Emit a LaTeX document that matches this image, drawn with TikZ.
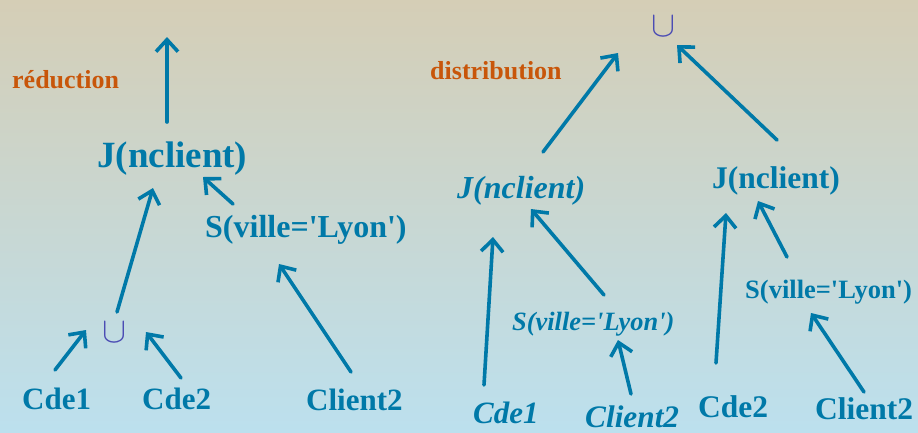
\RequirePackage{fix-cm}
\documentclass[tikz,border=0pt]{standalone}
\usepackage{fontspec}
\setmainfont{Liberation Serif}[Ligatures=TeXOff]
\usetikzlibrary{arrows.meta}
\definecolor{nodeblue}{RGB}{0,121,168}
\definecolor{notecol}{RGB}{200,86,10}
\definecolor{unioncol}{RGB}{75,76,180}
\definecolor{bgtop}{RGB}{213,206,182}
\definecolor{bgmid}{RGB}{198,217,220}
\definecolor{bgbot}{RGB}{188,224,238}

\begin{document}
\begin{tikzpicture}[x=1pt,y=-1pt,
  txt/.style={text=nodeblue, inner sep=0pt, anchor=base west,
    font=\fontsize{#1}{#1}\selectfont\bfseries},
  itxt/.style={text=nodeblue, inner sep=0pt, anchor=base west,
    font=\fontsize{#1}{#1}\selectfont\bfseries\itshape},
  note/.style={text=notecol, inner sep=0pt, anchor=base west,
    font=\fontsize{26}{26}\selectfont\bfseries},
  unionop/.style={text=unioncol, inner sep=0pt,
    font=\fontsize{36}{36}\selectfont},
  arr/.style={draw=nodeblue, line width=3.6pt, line cap=round,
    -{Straight Barb[length=12pt,width=22pt]}}]

% background
\useasboundingbox (0,0) rectangle (918,432);
\shade[top color=bgtop, middle color=bgmid, bottom color=bgbot]
  (0,0) rectangle (918,432);

% ---------- reduction tree ----------
\node[note] (red) at (12,88) {réduction};
\node[txt=37] (jL) at (97,167) {J(nclient)};
\node[txt=32] (sL) at (205,237) {S(ville='Lyon')};
\node[unionop] (uL) at (114,332) {$\cup$};
\node[txt=31] (cde1L) at (22,409) {Cde1};
\node[txt=31] (cde2L) at (142,409) {Cde2};
\node[txt=31] (cliL) at (306,410) {Client2};

\coordinate (jLtop) at (167,122);
\coordinate (outL) at (167,37);
\coordinate (uLtop) at (117,312);
\coordinate (jLin1) at (153,188);
\coordinate (sLtop) at (233,204);
\coordinate (jLin2) at (203,177);
\coordinate (cde1Ltop) at (55,370);
\coordinate (uLin1) at (86,330);
\coordinate (cde2Ltop) at (181,378);
\coordinate (uLin2) at (146,332);
\coordinate (cliLtop) at (351,372);
\coordinate (sLin) at (279,264);

\draw[arr] (jLtop) -- (outL);
\draw[arr] (uLtop) -- (jLin1);
\draw[arr] (sLtop) -- (jLin2);
\draw[arr] (cde1Ltop) -- (uLin1);
\draw[arr] (cde2Ltop) -- (uLin2);
\draw[arr] (cliLtop) -- (sLin);

% ---------- distribution tree ----------
\node[note] (dist) at (430,79) {distribution};
\node[unionop] (uR) at (663,26) {$\cup$};
\node[itxt=32] (jA) at (457,198) {J(nclient)};
\node[txt=31.5] (jB) at (712,188) {J(nclient)};
\node[itxt=26.4] (sA) at (512,330) {S(ville='Lyon')};
\node[txt=26.5] (sB) at (745,298) {S(ville='Lyon')};
\node[itxt=31] (cde1R) at (473,423) {Cde1};
\node[itxt=31.3] (cliA) at (585,427) {Client2};
\node[txt=31.5] (cde2R) at (698,417) {Cde2};
\node[txt=31.5] (cliB) at (815,419) {Client2};

\coordinate (jAtop) at (543,152);
\coordinate (uRin1) at (618,53);
\coordinate (jBtop) at (777,140);
\coordinate (uRin2) at (677,45);
\coordinate (cde1Rtop) at (484,385);
\coordinate (jAin1) at (493,237);
\coordinate (sAtop) at (604,295);
\coordinate (jAin2) at (531,209);
\coordinate (cliAtop) at (631,394);
\coordinate (sAin) at (618,340);
\coordinate (cde2Rtop) at (716,363);
\coordinate (jBin1) at (726,213);
\coordinate (sBtop) at (787,257);
\coordinate (jBin2) at (758,201);
\coordinate (cliBtop) at (864,392);
\coordinate (sBin) at (811,313);

\draw[arr] (jAtop) -- (uRin1);
\draw[arr] (jBtop) -- (uRin2);
\draw[arr] (cde1Rtop) -- (jAin1);
\draw[arr] (sAtop) -- (jAin2);
\draw[arr] (cliAtop) -- (sAin);
\draw[arr] (cde2Rtop) -- (jBin1);
\draw[arr] (sBtop) -- (jBin2);
\draw[arr] (cliBtop) -- (sBin);
\end{tikzpicture}
\end{document}
